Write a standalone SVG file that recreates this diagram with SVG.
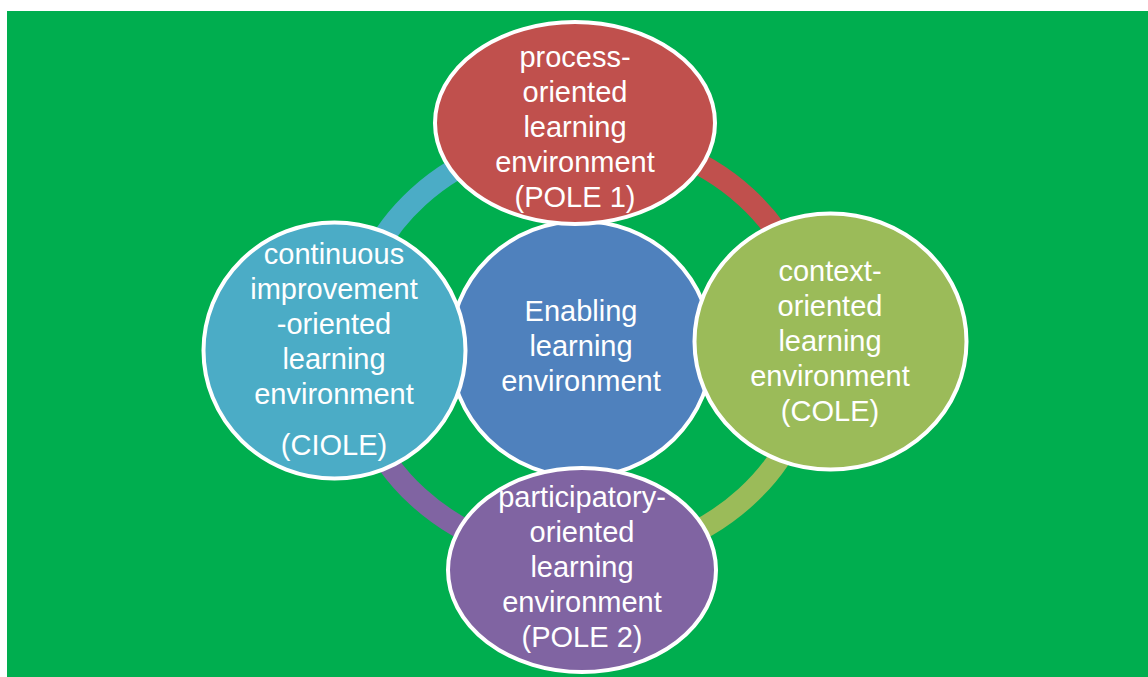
<svg xmlns="http://www.w3.org/2000/svg" width="1148" height="677" viewBox="0 0 1148 677">
  <style>
    .node { stroke: #ffffff; stroke-width: 4; }
    .lbl { fill: #ffffff; font-family: "Liberation Sans", Arial, sans-serif; font-size: 29px; text-anchor: middle; }
    .arc { fill: none; stroke-width: 22; }
  </style>
  <rect x="0" y="0" width="1148" height="677" fill="#ffffff"/>
  <rect x="7" y="11" width="1141" height="666" fill="#00AE4F"/>
  <g id="connectors">
    <path class="arc" stroke="#C0504D" d="M582,135 A232,212 0 0 1 814,347"/>
    <path class="arc" stroke="#9BBB59" d="M814,347 A232,212 0 0 1 582,559"/>
    <path class="arc" stroke="#8064A2" d="M582,559 A232,212 0 0 1 350,347"/>
    <path class="arc" stroke="#4BACC6" d="M350,347 A232,212 0 0 1 582,135"/>
  </g>
  <g id="center">
    <ellipse class="node" cx="581" cy="349" rx="131" ry="128" fill="#4F81BD"/>
    <text class="lbl"><tspan x="581" y="321">Enabling</tspan><tspan x="581" y="356">learning</tspan><tspan x="581" y="391">environment</tspan></text>
  </g>
  <g id="pole1">
    <ellipse class="node" cx="575" cy="123" rx="140" ry="101" fill="#C0504D"/>
    <text class="lbl"><tspan x="575" y="67">process-</tspan><tspan x="575" y="102">oriented</tspan><tspan x="575" y="137">learning</tspan><tspan x="575" y="172">environment</tspan><tspan x="575" y="207">(POLE 1)</tspan></text>
  </g>
  <g id="cole">
    <ellipse class="node" cx="830.5" cy="341.5" rx="136" ry="128" fill="#9BBB59"/>
    <text class="lbl"><tspan x="830" y="281">context-</tspan><tspan x="830" y="316">oriented</tspan><tspan x="830" y="351">learning</tspan><tspan x="830" y="386">environment</tspan><tspan x="830" y="421">(COLE)</tspan></text>
  </g>
  <g id="pole2">
    <ellipse class="node" cx="582" cy="570" rx="134" ry="102" fill="#8064A2"/>
    <text class="lbl"><tspan x="582" y="507">participatory-</tspan><tspan x="582" y="542">oriented</tspan><tspan x="582" y="577">learning</tspan><tspan x="582" y="612">environment</tspan><tspan x="582" y="647">(POLE 2)</tspan></text>
  </g>
  <g id="ciole">
    <ellipse class="node" cx="334.5" cy="350.5" rx="131" ry="128" fill="#4BACC6"/>
    <text class="lbl"><tspan x="334" y="264">continuous</tspan><tspan x="334" y="299">improvement</tspan><tspan x="334" y="334">-oriented</tspan><tspan x="334" y="369">learning</tspan><tspan x="334" y="404">environment</tspan><tspan x="334" y="455">(CIOLE)</tspan></text>
  </g>
</svg>
